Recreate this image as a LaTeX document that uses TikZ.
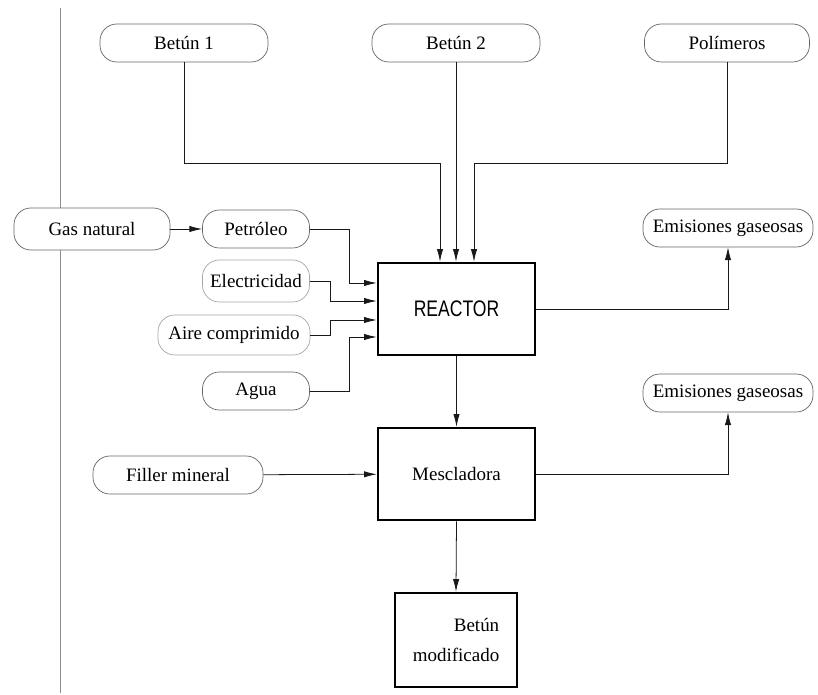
\documentclass[tikz,border=0pt]{standalone}
\usepackage{fontspec}
\setmainfont{Liberation Serif}
\newfontfamily\reactorfont{Liberation Sans}
\usepackage{graphicx}
\usetikzlibrary{arrows.meta}
\tikzset{
    entrada/.style={draw=black!60, line width=0.5pt, rounded corners=12pt, fill=white,
        inner sep=0pt, minimum height=0.95cm, font=\fontsize{13.5}{16}\selectfont},
    equipo/.style={draw, line width=1.8pt, inner sep=0pt,
        minimum width=3.925cm, minimum height=2.3cm, font=\fontsize{13.5}{16}\selectfont},
    flujo/.style={draw=black!90, line width=0.55pt, -{Latex[length=9pt,width=4.5pt]}}
}
\begin{document}
\begin{tikzpicture}[x=0.025cm, y=-0.025cm]
        \useasboundingbox (0,0) rectangle (818,695);
        % Linea lateral
        \draw[black!45] (60,8) -- (60,693);
        % Materias primas
        \node[entrada, minimum width=4.2cm] (betun1) at (184,43) {Betún 1};
        \node[entrada, minimum width=4.2cm] (betun2) at (456,43) {Betún 2};
        \node[entrada, minimum width=4.125cm] (polimeros) at (727,43) {Polímeros};
        % Servicios
        \node[entrada, minimum width=3.9cm, minimum height=1.05cm] (gas) at (92,229) {Gas natural};
        \node[entrada, minimum width=2.675cm] (petroleo) at (256,229) {Petróleo};
        \node[entrada, draw=black!35, minimum width=2.675cm, minimum height=1.05cm] (elec) at (256,281) {Electricidad};
        \node[entrada, draw=black!35, minimum width=3.8cm, minimum height=1.0cm] (aire) at (234,335) {Aire comprimido};
        \node[entrada, minimum width=2.675cm] (agua) at (256,391) {Agua};
        \node[entrada, minimum width=4.25cm] (filler) at (178,475) {Filler mineral};
        % Equipos
        \node[equipo] (reactor) at (456.5,309) {\reactorfont\fontsize{16}{18}\selectfont\scalebox{0.78}[1]{REACTOR}};
        \node[equipo] (mescladora) at (456.5,474) {Mescladora};
        \node[equipo, minimum width=3.05cm, minimum height=2.35cm, align=right,
            font=\fontsize{13.5}{21}\selectfont] (betunmod) at (456,640) {Betún\\modificado};
        % Emisiones
        \node[entrada, minimum width=4.25cm] (emis1) at (728,228) {Emisiones gaseosas};
        \node[entrada, minimum width=4.25cm] (emis2) at (728,393) {Emisiones gaseosas};
        % Codos
        \coordinate (j1) at (440,163);
        \coordinate (j3) at (474,163);
        \coordinate (c1) at (349,283);
        \coordinate (c2) at (330,301);
        \coordinate (c3) at (330,320);
        \coordinate (c4) at (349,337);
        % Flujos
        \draw[flujo] (betun1.south) |- (j1) -- (j1 |- reactor.north);
        \draw[flujo] (betun2.south) -- (betun2.south |- reactor.north);
        \draw[flujo] (polimeros.south) |- (j3) -- (j3 |- reactor.north);
        \draw[flujo] (gas) -- (petroleo);
        \draw[flujo] (petroleo.east) -| (c1) -- (c1 -| reactor.west);
        \draw[flujo] (elec.east) -| (c2) -- (c2 -| reactor.west);
        \draw[flujo] (aire.east) -| (c3) -- (c3 -| reactor.west);
        \draw[flujo] (agua.east) -| (c4) -- (c4 -| reactor.west);
        \draw[flujo] (reactor.east) -| (emis1.south);
        \draw[flujo] (reactor.south) -- (mescladora.north);
        \draw[flujo] (filler) -- (mescladora);
        \draw[flujo] (mescladora.east) -| (emis2.south);
        \draw[flujo] (mescladora.south) -- (betunmod.north);
    \end{tikzpicture}
\end{document}
